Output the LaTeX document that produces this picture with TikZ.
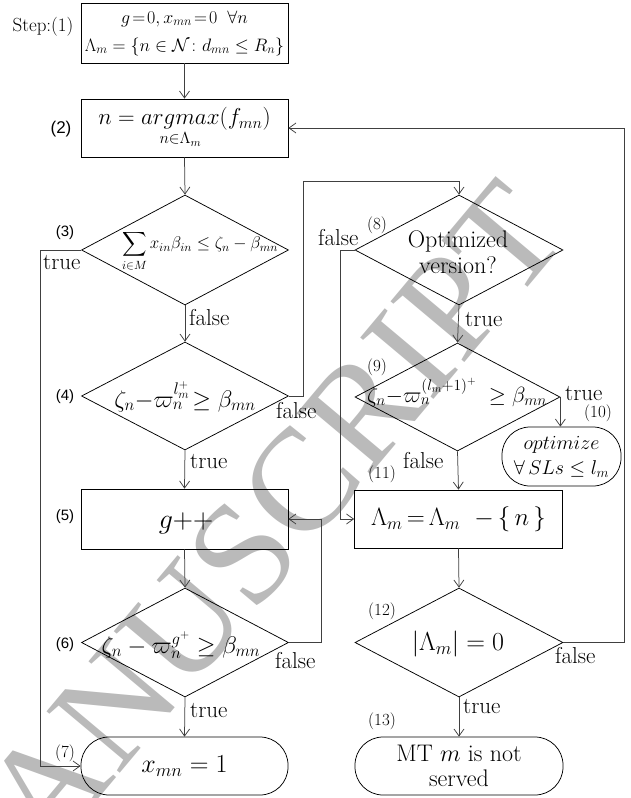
\RequirePackage{fix-cm}
\documentclass[tikz,border=0pt]{standalone}
\usepackage{amsmath,amssymb}
\usepackage{fontspec}
\newfontfamily\lsans{Liberation Sans}
\newfontfamily\lserif{Liberation Serif}
\usetikzlibrary{shapes.geometric,arrows.meta}
\newcommand\myfs[1]{\fontsize{#1}{#1}\selectfont}
\newcommand\myfsb[2]{\fontsize{#1}{#2}\selectfont}
\begin{document}
\begin{tikzpicture}[x=1pt,y=-1pt,
  box/.style={draw=black, line width=0.75pt, minimum width=207pt, minimum height=59pt, inner sep=0pt, align=center},
  term/.style={box, rounded corners=28pt},
  dia/.style={draw=black, diamond, line width=0.75pt, minimum width=207pt, minimum height=109pt, inner sep=0pt},
  txt/.style={inner sep=0pt, align=center},
  arr/.style={draw=black!75, line width=0.75pt, -{Straight Barb[length=7pt,width=10pt]}},
  yn/.style={font=\myfs{23}, anchor=base west, inner sep=0pt},
  num/.style={font=\lsans\myfs{15}, inner sep=0pt},
  snum/.style={font=\myfs{17}, inner sep=0pt},
  wm/.style={font=\lserif\myfs{146}, text=black!27, inner sep=0pt}
]
\useasboundingbox (0,0) rectangle (630,798);
% watermark
\node[wm, rotate=50] (wm) at (274,516) {ANUSCRIPT};

% left column
\node[box, minimum height=60pt, font=\myfsb{18}{28}] (b1) at (184.5,33) {$g\!=\!0, x_{mn}\!=\!0\;\;\forall n$\\$\Lambda_m = \{n\in\mathcal{N}\colon d_{mn}\le R_n\}$};
\node[box, minimum height=58pt, font=\myfs{23}] (b2) at (184.5,128) {$n = \underset{n\in\Lambda_m}{argmax}(f_{mn})$};
\node[dia, minimum height=110pt] (d3) at (185,250) {};
\node[txt, font=\myfs{17}] (t3) at (200,251) {$\displaystyle\sum_{i\in M} x_{in}\beta_{in} \le \zeta_n - \beta_{mn}$};
\node[dia, minimum height=108pt] (d4) at (185,396) {};
\node[txt, font=\myfs{24}, anchor=base] (t4) at (185,407) {$\zeta_n{-}\varpi_n^{l_m^+}\!\ge \beta_{mn}$};
\node[box, minimum height=60pt] (b5) at (184.5,519) {};
\node[txt, font=\myfs{28}, anchor=base] (t5) at (186,528) {$g{+}{+}$};
\node[dia, minimum height=109pt] (d6) at (185,642.5) {};
\node[txt, font=\myfs{24}, anchor=base] (t6) at (181,653) {$\zeta_n - \varpi_n^{g^+} \ge \beta_{mn}$};
\node[term, minimum height=58pt, font=\myfs{26}] (b7) at (184.5,766) {$x_{mn} = 1$};

% right column
\node[dia, minimum height=110pt, minimum width=208pt] (d8) at (459,250) {};
\node[txt, font=\myfsb{24}{26}] (t8) at (458,252) {Optimized\\version?};
\node[dia, minimum height=108pt, minimum width=205pt] (d9) at (457.5,397) {};
\node[txt, font=\myfs{22}, anchor=base] (t9) at (457,402) {$\zeta_n{-}\varpi_n^{(l_m+1)^+}\;\ge \beta_{mn}$};
\node[term, minimum width=119pt, minimum height=59pt, font=\myfsb{20}{25}] (b10) at (561.5,456.5) {$optimize$\\$\forall\, SLs \le l_m$};
\node[box, minimum width=208pt, minimum height=58pt, font=\myfs{25}] (b11) at (458.5,519) {$\Lambda_m\,{=}\,\Lambda_m\;\;{-}\,\{\,n\,\}$};
\node[dia, minimum height=109pt, minimum width=208pt] (d12) at (459,642.5) {};
\node[txt, font=\myfs{26}] (t12) at (458,644) {$|\Lambda_m| = 0$};
\node[term, minimum width=208pt, minimum height=58pt, font=\myfsb{24}{25}] (b13) at (459,766) {MT $m$ is not\\served};

% step labels
\node[font=\myfs{19}, inner sep=0pt, anchor=base] (s1) at (43,31) {Step:(1)};
\node[num, font=\lsans\myfs{17}] (s2) at (61,129) {(2)};
\node[num] (s3) at (65,233) {(3)};
\node[num] (s4) at (65,397) {(4)};
\node[num] (s5) at (65,517) {(5)};
\node[num] (s6) at (65,645) {(6)};
\node[snum] (s7) at (65,753) {(7)};
\node[snum] (s8) at (377,225) {(8)};
\node[snum] (s9) at (377,367) {(9)};
\node[snum] (s10) at (598,413) {(10)};
\node[snum] (s11) at (382,474) {(11)};
\node[snum] (s12) at (382,611) {(12)};
\node[snum] (s13) at (382,721) {(13)};

% true / false labels
\node[yn] (y3t) at (43,269) {true};
\node[yn] (y3f) at (189,325) {false};
\node[yn] (y4f) at (276,418) {false};
\node[yn] (y4t) at (190,468) {true};
\node[yn] (y6f) at (275,668) {false};
\node[yn] (y6t) at (190,717) {true};
\node[yn] (y8f) at (318,245) {false};
\node[yn] (y8t) at (465,326) {true};
\node[yn] (y9t) at (565,400) {true};
\node[yn] (y9f) at (403,468) {false};
\node[yn] (y12f) at (555,663) {false};
\node[yn] (y12t) at (463,713) {true};

% helper coordinates
\coordinate (c3) at (40,250);
\coordinate (c4) at (303,181);
\coordinate (c6) at (321,519);
\coordinate (c8) at (340,519);
\coordinate (c12) at (624,128);

% connectors
\draw[arr] (b1.south) -- (b2.north);
\draw[arr] (b2.south) -- (d3.north);
\draw[arr] (d3.west) -- (c3) |- (b7.west);
\draw[arr] (d3.south) -- (d4.north);
\draw[arr] (d4.east) -| (c4) -| (d8.north);
\draw[arr] (d4.south) -- (b5.north);
\draw[arr] (b5.south) -- (d6.north);
\draw[arr] (d6.east) -| (c6) -- (b5.east);
\draw[arr] (d6.south) -- (b7.north);
\draw[arr] (d8.west) -| (c8) -- (b11.west);
\draw[arr] (d8.south) -- (d9.north);
\draw[arr] (d9.east) -- (d9.east |- b10.north);
\draw[arr] (d9.south) -- (b11.north);
\draw[arr] (b11.south) -- (d12.north);
\draw[arr] (d12.east) -| (c12) -- (b2.east);
\draw[arr] (d12.south) -- (b13.north);
\end{tikzpicture}
\end{document}
